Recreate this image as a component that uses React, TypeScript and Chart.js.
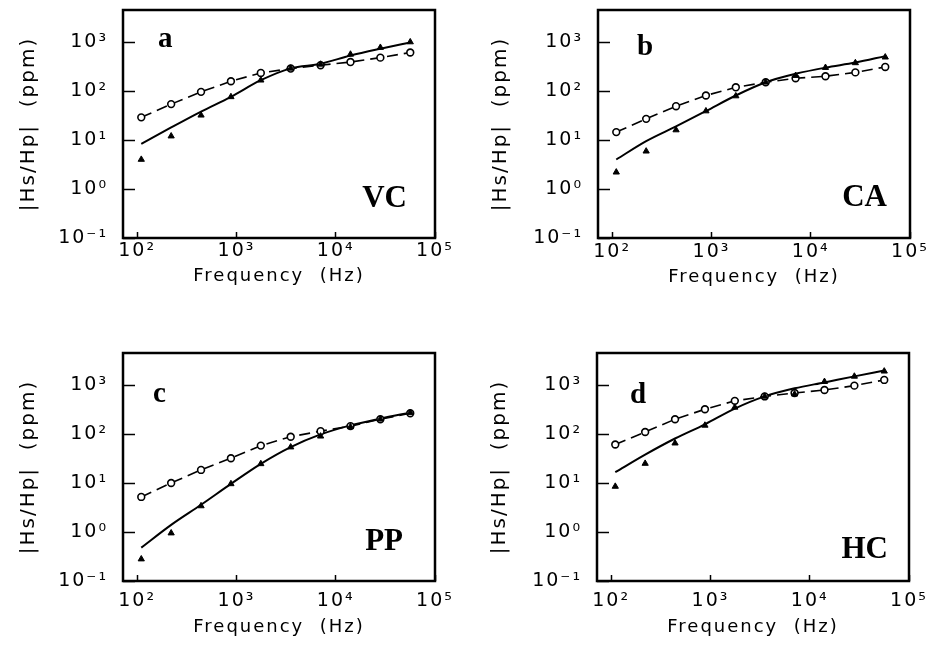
import React, { useEffect, useRef } from "react";
import { Chart, registerables } from "chart.js";

Chart.register(...registerables);

const SANS = '"DejaVu Sans", sans-serif';
const SERIF = '"Liberation Serif", "Times New Roman", serif';

// Frequencies (Hz) of the measured points
const freq = [110, 220, 440, 880, 1760, 3520, 7040, 14080, 28160, 56320];

// Panel a (VC)
const vcOpen = [29, 54, 96, 158, 234, 287, 336, 390, 480, 610];
const vcTri = [4.0, 12, 32, 76, 166, 290, 350, 560, 770, 1000];
const vcFit = [8.3, 18, 38, 76, 166, 290, 360, 530, 730, 980];

// Panel b (CA)
const caOpen = [14.5, 27, 49, 81, 119, 151, 182, 200, 240, 310];
const caTri = [2.2, 5.9, 16, 39, 79, 151, 206, 300, 375, 490];
const caFit = [4.0, 9.5, 19, 39, 81, 151, 224, 300, 380, 515];

// Panel c (PP)
const ppOpen = [5.2, 10, 18.5, 32, 58, 88, 114, 145, 200, 265];
const ppTri = [0.28, 0.95, 3.4, 9.6, 24.6, 54, 90, 140, 200, 273];
const ppFit = [0.48, 1.4, 3.6, 9.6, 24.6, 54, 98, 150, 206, 273];

// Panel d (HC)
const hcOpen = [61, 110, 200, 320, 475, 585, 685, 790, 970, 1270];
const hcTri = [8.5, 25, 65, 150, 350, 585, 650, 1170, 1500, 1910];
const hcFit = [16.6, 38, 81, 158, 330, 585, 855, 1130, 1500, 1970];

// Tick values and labels
const xTickValues = [100, 1000, 10000, 100000];
const xTickLabels = ["10²", "10³", "10⁴", "10⁵"];
const yTickValues = [0.1, 1, 10, 100, 1000];
const yTickLabels = ["10⁻¹", "10⁰", "10¹", "10²", "10³"];

const xTitle = "Frequency  (Hz)";
const yTitle = "|Hs/Hp|  (ppm)";

const CW = 469;
const CH = 311;

type PanelSpec = {
  open: number[];
  tri: number[];
  fit: number[];
  letter: string;
  name: string;
  left: number;
  top: number;
  yTitlePad: number;
  xTickPad: number;
  xTitlePad: number;
  letterDx: number;
  letterDy: number;
  nameDx: number;
  nameDy: number;
};

const panels: PanelSpec[] = [
  { open: vcOpen, tri: vcTri, fit: vcFit, letter: "a", name: "VC", left: 0, top: 0,
    yTitlePad: 17, xTickPad: 8, xTitlePad: 24, letterDx: 35, letterDy: 37, nameDx: 284, nameDy: 197 },
  { open: caOpen, tri: caTri, fit: caFit, letter: "b", name: "CA", left: 475, top: 0,
    yTitlePad: 14, xTickPad: 9, xTitlePad: 23, letterDx: 39, letterDy: 45, nameDx: 289, nameDy: 196 },
  { open: ppOpen, tri: ppTri, fit: ppFit, letter: "c", name: "PP", left: 0, top: 343,
    yTitlePad: 17, xTickPad: 15, xTitlePad: 16, letterDx: 30, letterDy: 49, nameDx: 280, nameDy: 197 },
  { open: hcOpen, tri: hcTri, fit: hcFit, letter: "d", name: "HC", left: 474, top: 343,
    yTitlePad: 14, xTickPad: 15, xTitlePad: 16, letterDx: 33, letterDy: 50, nameDx: 291, nameDy: 205 },
];

const framePlugin = {
  id: "frame",
  beforeDraw(chart: any) {
    (chart.ctx as any).letterSpacing = "2px";
  },
  afterDraw(chart: any) {
    const ctx = chart.ctx;
    const a = chart.chartArea;
    const o = chart.options.plugins.frame || {};
    ctx.save();
    (ctx as any).letterSpacing = "0px";
    ctx.strokeStyle = "#000";
    ctx.lineWidth = 2.5;
    ctx.strokeRect(a.left, a.top, a.right - a.left, a.bottom - a.top);
    ctx.fillStyle = "#000";
    ctx.textBaseline = "alphabetic";
    ctx.font = `bold 29px ${SERIF}`;
    ctx.textAlign = "left";
    ctx.fillText(o.letter, a.left + o.letterDx, a.top + o.letterDy);
    ctx.font = `bold 31px ${SERIF}`;
    ctx.textAlign = "right";
    ctx.fillText(o.name, a.left + o.nameDx, a.top + o.nameDy);
    ctx.restore();
  },
};

function makeConfig(p: PanelSpec): any {
  const pts = (arr: number[]) => freq.map((f, i) => ({ x: f, y: arr[i] }));
  return {
    type: "line",
    data: {
      datasets: [
        {
          label: "triangles",
          data: pts(p.tri),
          showLine: false,
          pointStyle: "triangle",
          pointRadius: 3.6,
          pointBackgroundColor: "#000",
          pointBorderColor: "#000",
          pointBorderWidth: 1,
        },
        {
          label: "circles",
          data: pts(p.open),
          borderColor: "#000",
          borderWidth: 1.6,
          borderDash: [11, 6],
          pointStyle: "circle",
          pointRadius: 3.4,
          pointBackgroundColor: "#fff",
          pointBorderColor: "#000",
          pointBorderWidth: 1.6,
          fill: false,
          tension: 0,
        },
        {
          label: "fit",
          data: pts(p.fit),
          borderColor: "#000",
          borderWidth: 2,
          pointRadius: 0,
          cubicInterpolationMode: "monotone",
          fill: false,
        },
      ],
    },
    options: {
      responsive: false,
      maintainAspectRatio: false,
      animation: false,
      layout: { padding: { left: 0, top: 10, right: CW - 435, bottom: 0 } },
      plugins: {
        legend: { display: false },
        tooltip: { enabled: false },
        frame: {
          letter: p.letter,
          name: p.name,
          letterDx: p.letterDx,
          letterDy: p.letterDy,
          nameDx: p.nameDx,
          nameDy: p.nameDy,
        },
      },
      scales: {
        x: {
          type: "logarithmic",
          min: 72,
          max: 100000,
          afterBuildTicks: (s: any) => {
            s.ticks = xTickValues.map((v) => ({ value: v }));
          },
          afterFit: (s: any) => {
            s.height = CH - 238;
            s.paddingLeft = 0;
            s.paddingRight = 0;
            s.paddingTop = 0;
            s.paddingBottom = 0;
          },
          ticks: {
            callback: (_v: any, i: number) => xTickLabels[i],
            font: { family: SANS, size: 19 },
            color: "#000",
            padding: p.xTickPad,
            autoSkip: false,
            maxRotation: 0,
            minRotation: 0,
          },
          grid: { drawOnChartArea: false, drawTicks: true, tickLength: -6, tickColor: "#000", tickWidth: 1.5 },
          border: { display: false },
          title: {
            display: true,
            text: xTitle,
            color: "#000",
            font: { family: SANS, size: 18 },
            padding: { top: 0, bottom: p.xTitlePad },
          },
        },
        y: {
          type: "logarithmic",
          min: 0.1,
          max: 4500,
          afterBuildTicks: (s: any) => {
            s.ticks = yTickValues.map((v) => ({ value: v }));
          },
          afterFit: (s: any) => {
            s.width = 123;
            s.paddingLeft = 0;
            s.paddingRight = 0;
            s.paddingTop = 0;
            s.paddingBottom = 0;
          },
          ticks: {
            callback: (_v: any, i: number) => yTickLabels[i],
            font: { family: SANS, size: 19 },
            color: "#000",
            padding: 27,
            autoSkip: false,
          },
          grid: { drawOnChartArea: false, drawTicks: true, tickLength: -12, tickColor: "#000", tickWidth: 1.5 },
          border: { display: false },
          title: {
            display: true,
            text: yTitle,
            color: "#000",
            font: { family: SANS, size: 20 },
            padding: { top: p.yTitlePad, bottom: 0 },
          },
        },
      },
    },
    plugins: [framePlugin],
  };
}

function Panel({ spec }: { spec: PanelSpec }) {
  const ref = useRef<HTMLCanvasElement>(null);
  useEffect(() => {
    const chart = new Chart(ref.current as HTMLCanvasElement, makeConfig(spec));
    return () => chart.destroy();
  }, [spec]);
  return (
    <canvas
      ref={ref}
      width={CW}
      height={CH}
      style={{ position: "absolute", left: spec.left, top: spec.top, width: CW, height: CH }}
    />
  );
}

export default function App() {
  return (
    <div
      style={{
        position: "absolute",
        left: 0,
        top: 0,
        width: 944,
        height: 654,
        overflow: "hidden",
        background: "#fff",
      }}
    >
      {panels.map((p) => (
        <Panel key={p.letter} spec={p} />
      ))}
    </div>
  );
}
